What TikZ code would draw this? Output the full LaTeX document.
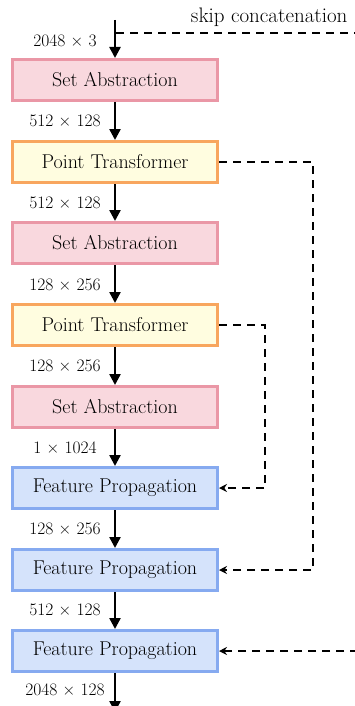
\documentclass[tikz,border=0pt]{standalone}
\usetikzlibrary{arrows.meta,positioning}

\definecolor{saFill}{HTML}{F9D8DE}
\definecolor{saLine}{HTML}{EA97A6}
\definecolor{ptFill}{HTML}{FFFDE0}
\definecolor{ptLine}{HTML}{F8A65E}
\definecolor{fpFill}{HTML}{D5E3FB}
\definecolor{fpLine}{HTML}{86AAF0}

\tikzset{
  block/.style={minimum width=205pt,minimum height=41pt,line width=3pt,inner sep=0pt,
    font=\fontsize{20}{22}\selectfont},
  sablock/.style={block,draw=saLine,fill=saFill},
  ptblock/.style={block,draw=ptLine,fill=ptFill},
  fpblock/.style={block,draw=fpLine,fill=fpFill},
  flow/.style={line width=2.4pt,-{Triangle[length=11pt,width=11pt]}},
  skip/.style={line width=2.4pt,dash pattern=on 8pt off 6pt,-{Stealth[length=8pt,width=8pt]}},
  dimlabel/.style={font=\fontsize{17.5}{19}\selectfont},
}

\begin{document}
\begin{tikzpicture}[x=1pt,y=-1pt]
    \useasboundingbox (0,0) rectangle (355,706);
    % encoder
    \node[sablock] (sa1) at (115,80) {Set Abstraction};
    \node[ptblock] (pt1) at (115,162) {Point Transformer};
    \node[sablock] (sa2) at (115,243) {Set Abstraction};
    \node[ptblock] (pt2) at (115,325) {Point Transformer};
    \node[sablock] (sa3) at (115,407) {Set Abstraction};
    % decoder
    \node[fpblock] (fp1) at (115,488) {Feature Propagation};
    \node[fpblock] (fp2) at (115,570) {Feature Propagation};
    \node[fpblock] (fp3) at (115,651) {Feature Propagation};

    \coordinate (in) at (115,20);
    \coordinate (out) at (115,712);
    \coordinate (skipout) at (358,33);
    \coordinate (skipin) at (358,651);

    \draw[flow] (in) -- (sa1);
    \draw[flow] (sa1) -- (pt1);
    \draw[flow] (pt1) -- (sa2);
    \draw[flow] (sa2) -- (pt2);
    \draw[flow] (pt2) -- (sa3);
    \draw[flow] (sa3) -- (fp1);
    \draw[flow] (fp1) -- (fp2);
    \draw[flow] (fp2) -- (fp3);
    \draw[flow] (fp3) -- (out);

    % sizes
    \node[dimlabel] at (65,41) {2048 × 3};
    \node[dimlabel] at (65,121) {512 × 128};
    \node[dimlabel] at (65,203) {512 × 128};
    \node[dimlabel] at (65,285) {128 × 256};
    \node[dimlabel] at (65,366) {128 × 256};
    \node[dimlabel] at (65,448) {1 × 1024};
    \node[dimlabel] at (65,529) {128 × 256};
    \node[dimlabel] at (65,610) {512 × 128};
    \node[dimlabel] at (65,690) {2048 × 128};

    % skip connections
    \node[anchor=east,font=\fontsize{21}{23}\selectfont] (skiplabel) at (351,17) {skip concatenation};
    \draw[line width=2.4pt,dash pattern=on 8pt off 6pt] (116.2,33) -- (skipout);
    \draw[skip] (pt1.east) -- (313,162) |- (fp2.east);
    \draw[skip] (pt2.east) -- (265,325) |- (fp1.east);
    \draw[skip] (skipin) -- (fp3.east);
\end{tikzpicture}
\end{document}
